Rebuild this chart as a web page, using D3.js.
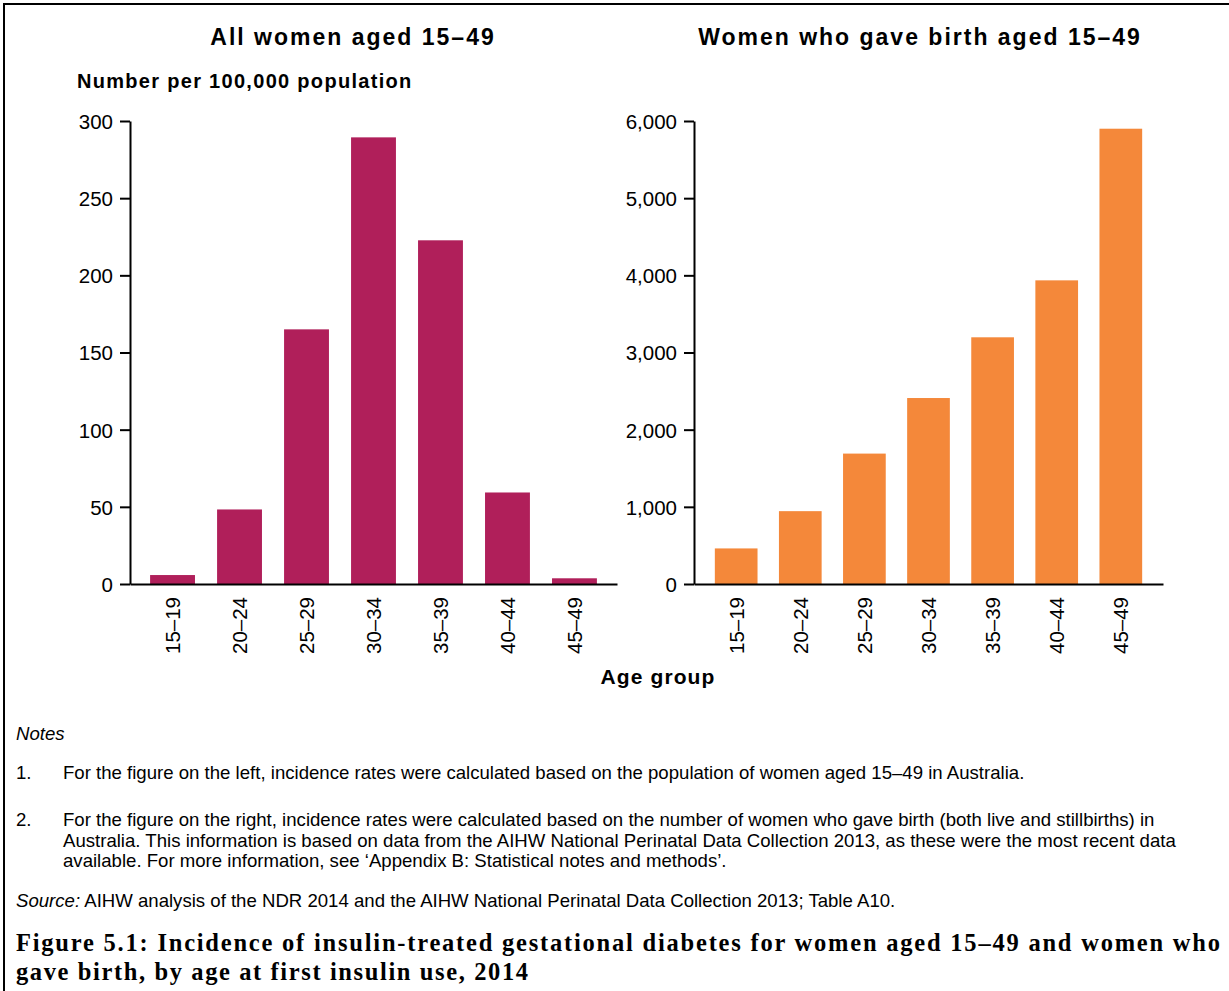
<!DOCTYPE html>
<html>
<head>
<meta charset="utf-8">
<script src="https://cdn.jsdelivr.net/npm/d3@7"></script>
<style>
  html, body { margin: 0; padding: 0; background: #fff; }
  svg { display: block; }
  .sans { font-family: "Liberation Sans", Arial, Helvetica, sans-serif; fill: #000; }
</style>
</head>
<body>
<svg id="chart" width="1229" height="991"></svg>
<script>
// ---------- data ----------
const ageGroups = ["15–19", "20–24", "25–29", "30–34", "35–39", "40–44", "45–49"];
const allWomenRates = [5.8, 48.3, 165, 289.4, 222.7, 59.3, 3.7];
const gaveBirthRates = [461, 944, 1690, 2410, 3197, 3935, 5900];
const leftTicks = [0, 50, 100, 150, 200, 250, 300];
const rightTicks = [0, 1000, 2000, 3000, 4000, 5000, 6000];
const leftTitle = "All women aged 15–49";
const rightTitle = "Women who gave birth aged 15–49";
const yAxisTitle = "Number per 100,000 population";
const xAxisTitle = "Age group";
const notesHeading = "Notes";
const notes = [
  ["1.", ["For the figure on the left, incidence rates were calculated based on the population of women aged 15–49 in Australia."]],
  ["2.", ["For the figure on the right, incidence rates were calculated based on the number of women who gave birth (both live and stillbirths) in",
          "Australia. This information is based on data from the AIHW National Perinatal Data Collection 2013, as these were the most recent data",
          "available. For more information, see ‘Appendix B: Statistical notes and methods’."]]
];
const sourceLabel = "Source:";
const sourceText = " AIHW analysis of the NDR 2014 and the AIHW National Perinatal Data Collection 2013; Table A10.";
const figureTitle = [
  "Figure 5.1: Incidence of insulin-treated gestational diabetes for women aged 15–49 and women who",
  "gave birth, by age at first insulin use, 2014"
];

// ---------- drawing ----------
const svg = d3.select("#chart");

// frame (top and left rule)
svg.append("path")
  .attr("d", "M4,991 V4 H1229")
  .attr("fill", "none").attr("stroke", "#000").attr("stroke-width", 2);

function panel(opts) {
  const y = d3.scaleLinear().domain([opts.ticks[0], opts.ticks[opts.ticks.length - 1]]).range([584, 121]);
  const x = d3.scaleBand().domain(ageGroups).range([opts.x0, opts.x1])
    .paddingInner(opts.pi).paddingOuter(opts.po);

  const g = svg.append("g");

  g.selectAll("rect.bar").data(opts.values).join("rect")
    .attr("class", "bar")
    .attr("x", (d, i) => x(ageGroups[i]))
    .attr("width", x.bandwidth())
    .attr("y", d => y(d))
    .attr("height", d => y(0) - y(d))
    .attr("fill", opts.color);

  const yAxis = d3.axisLeft(y).tickValues(opts.ticks).tickSize(10).tickSizeOuter(0).tickPadding(7)
    .tickFormat(opts.fmt);
  const ya = g.append("g").attr("transform", `translate(${opts.x0},0)`).call(yAxis);
  ya.select(".domain").attr("stroke-width", 2);
  ya.selectAll(".tick line").attr("stroke-width", 2);
  ya.selectAll(".tick text").attr("class", "sans").style("font-size", "20.5px")
    .attr("dy", "0.36em");

  const xAxis = d3.axisBottom(x).tickSize(0).tickSizeOuter(0).tickPadding(0);
  const xa = g.append("g").attr("transform", `translate(0,584)`).call(xAxis);
  xa.select(".domain").attr("stroke-width", 2);
  xa.selectAll(".tick text").attr("class", "sans").style("font-size", "20.5px")
    .attr("text-anchor", "end")
    .attr("transform", "rotate(-90)")
    .attr("x", -13).attr("y", 0).attr("dy", "0.36em");

  g.append("text").attr("class", "sans")
    .attr("x", opts.titleX).attr("y", 45)
    .attr("text-anchor", "middle")
    .style("font-size", "23px").style("font-weight", "bold").style("letter-spacing", "2px")
    .text(opts.title);
}

panel({ values: allWomenRates, ticks: leftTicks, color: "#B01F5A", x0: 130, x1: 617,
        pi: 0.33, po: 0.3, fmt: d3.format("d"), title: leftTitle, titleX: 353 });
panel({ values: gaveBirthRates, ticks: rightTicks, color: "#F4883A", x0: 694, x1: 1163,
        pi: 0.334, po: 0.325, fmt: d3.format(","), title: rightTitle, titleX: 920 });

svg.append("text").attr("class", "sans")
  .attr("x", 77).attr("y", 88)
  .style("font-size", "20px").style("font-weight", "bold").style("letter-spacing", "1.3px")
  .text(yAxisTitle);

svg.append("text").attr("class", "sans")
  .attr("x", 658).attr("y", 684).attr("text-anchor", "middle")
  .style("font-size", "21px").style("font-weight", "bold").style("letter-spacing", "1.1px")
  .text(xAxisTitle);

// notes
const noteSize = "18.6px";
svg.append("text").attr("class", "sans")
  .attr("x", 16).attr("y", 740)
  .style("font-size", noteSize).style("font-style", "italic")
  .text(notesHeading);

const noteStarts = [779, 826];
notes.forEach((n, i) => {
  svg.append("text").attr("class", "sans").attr("x", 16).attr("y", noteStarts[i])
    .style("font-size", noteSize).text(n[0]);
  n[1].forEach((line, j) => {
    svg.append("text").attr("class", "sans").attr("x", 63).attr("y", noteStarts[i] + j * 20.5)
      .style("font-size", noteSize).text(line);
  });
});

const src = svg.append("text").attr("class", "sans").attr("x", 16).attr("y", 907)
  .style("font-size", noteSize);
src.append("tspan").style("font-style", "italic").text(sourceLabel);
src.append("tspan").text(sourceText);

const titleWidths = [1204, 512];
figureTitle.forEach((t, i) => {
  svg.append("text")
    .attr("x", 16).attr("y", 951 + i * 29)
    .attr("textLength", titleWidths[i]).attr("lengthAdjust", "spacing")
    .style("font-family", "\"Liberation Serif\", \"Times New Roman\", serif")
    .style("font-size", "24.5px").style("font-weight", "bold").style("fill", "#000")
    .text(t);
});
</script>
</body>
</html>
